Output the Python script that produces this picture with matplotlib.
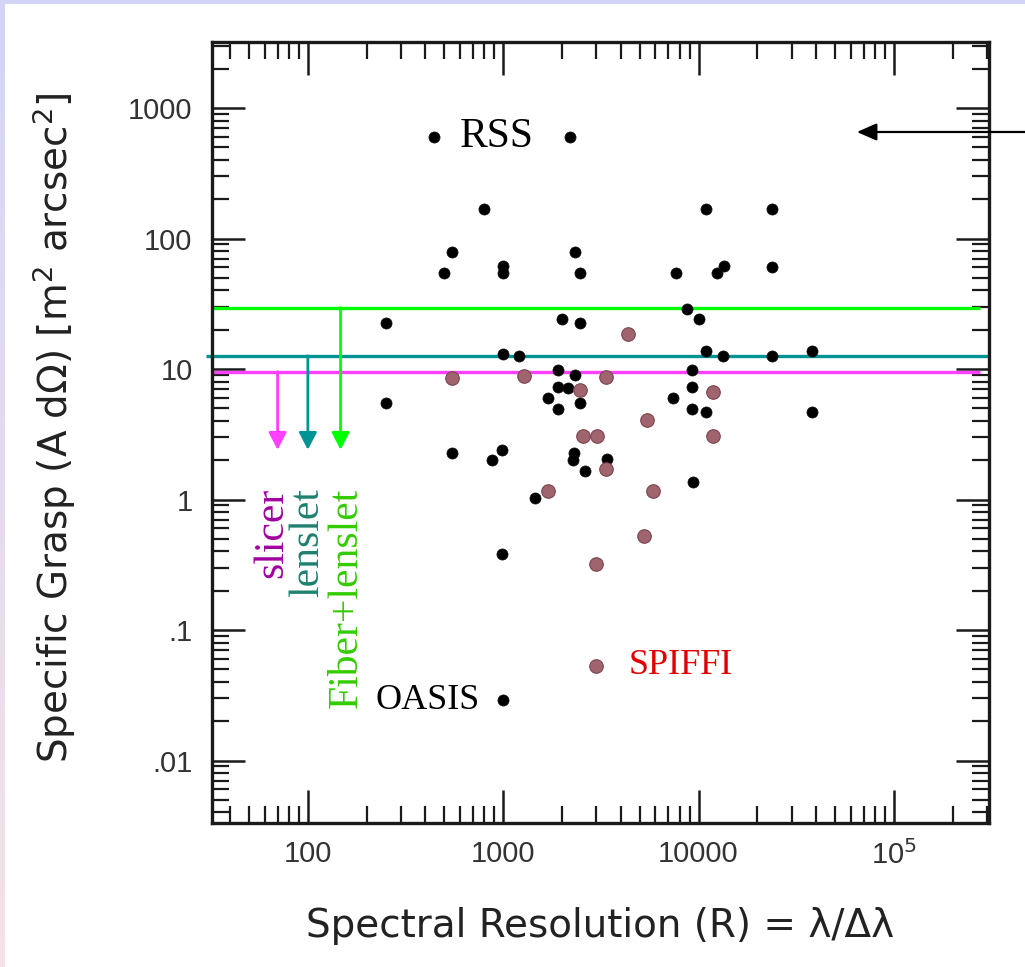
import numpy as np
import matplotlib
matplotlib.use("Agg")
import matplotlib.pyplot as plt
from matplotlib.patches import Rectangle
from matplotlib.ticker import LogLocator, NullFormatter, FixedLocator, FixedFormatter

plt.rcParams['mathtext.fontset'] = 'custom'
plt.rcParams['mathtext.rm'] = 'DejaVu Sans'
plt.rcParams['mathtext.it'] = 'DejaVu Sans:italic'

# ---------------- data ----------------
black_R = [440, 2200, 800, 550, 500, 1000, 1000, 2330, 2470, 10900, 23800, 7700, 12400,
           13500, 23800, 250, 250, 546, 875, 985, 985, 1000, 1200, 2000, 2470, 1905, 2330,
           1905, 2140, 1694, 1905, 2470, 2300, 2270, 2620, 3400, 1452, 1000, 8730, 10000,
           10900, 13300, 23800, 38100, 9250, 9250, 7400, 9250, 10900, 38100, 9350]
black_G = [600, 600, 168, 79, 54, 62, 54, 79, 54, 168, 168, 54, 54,
           61.5, 60.5, 22.5, 5.5, 2.27, 2.01, 2.39, 0.38, 13.0, 12.6, 24.2, 22.5, 9.8, 9.0,
           7.3, 7.15, 6.0, 4.93, 5.5, 2.27, 2.01, 1.65, 2.04, 1.03, 0.029, 28.8, 24.2,
           13.7, 12.6, 12.6, 13.7, 9.8, 7.3, 6.0, 4.93, 4.68, 4.68, 1.36]

pink_R = [4350, 546, 1276, 3360, 2470, 5450, 11900, 2550, 3020, 3360, 11900, 1694, 5850,
          5250, 2990, 2990]
pink_G = [18.5, 8.53, 8.8, 8.7, 6.9, 4.06, 6.67, 3.07, 3.07, 1.71, 3.07, 1.16, 1.16,
          0.525, 0.321, 0.053]

limit_names = ["slicer", "lenslet", "Fiber+lenslet"]
limit_levels = [9.53, 12.6, 29.5]
limit_arrow_R = [70, 100, 147]
limit_arrow_tip = 2.4
limit_colors = ["#ff40ff", "#009393", "#00ff00"]
limit_text_colors = ["#a000a0", "#1f8070", "#33cc00"]
limit_text_R = [73.6, 112.5, 178]
limit_text_top = 1.225

xtick_vals = [100, 1000, 10000, 100000]
xtick_labels = ["100", "1000", "10000", "10$^{5}$"]
ytick_vals = [0.01, 0.1, 1, 10, 100, 1000]
ytick_labels = [".01", ".1", "1", "10", "100", "1000"]

# ---------------- figure ----------------
W, H = 1025, 967
fig = plt.figure(figsize=(W / 100, H / 100), dpi=100)
fig.patch.set_facecolor("white")

# decorative border strips
grad_ax = fig.add_axes([0, 0, 5 / W, 1], zorder=-5)
top_c = np.array([212, 212, 248]) / 255
bot_c = np.array([246, 226, 230]) / 255
t = np.linspace(0, 1, 200)[:, None]
grad = (top_c[None, :] * (1 - t) + bot_c[None, :] * t)[:, None, :]
grad_ax.imshow(grad, aspect="auto")
grad_ax.axis("off")
fig.patches.append(Rectangle((0, 1 - 4 / H), 1, 4 / H, transform=fig.transFigure,
                             facecolor="#d4d4f8", edgecolor="none", zorder=-5))

L, R_, B, T = 212, 989, 823, 42
ax = fig.add_axes([L / W, 1 - B / H, (R_ - L) / W, (B - T) / H])
ax.set_xscale("log")
ax.set_yscale("log")
ax.set_xlim(32.3, 3.07e5)
ax.set_ylim(0.00332, 3205)

# points
ax.scatter(black_R, black_G, s=64, color="black", edgecolors="#111111", linewidths=0.5, zorder=3)
ax.scatter(pink_R, pink_G, s=95, color="#a0646e", edgecolors="#7a4450", linewidths=0.8, zorder=4)

# limit lines and arrows
for i, (lvl, xa, col) in enumerate(zip(limit_levels, limit_arrow_R, limit_colors)):
    if i == 1:
        ax.hlines(lvl, 30.1, 3.07e5, color=col, lw=2.4, clip_on=False, zorder=2)
    else:
        ax.hlines(lvl, 32.3, 2.76e5, color=col, lw=2.4, zorder=2)
    ax.annotate("", xy=(xa, limit_arrow_tip), xytext=(xa, lvl),
                arrowprops=dict(arrowstyle="-|>,head_length=0.7,head_width=0.36",
                                color=col, lw=2, shrinkA=0, shrinkB=0, mutation_scale=15),
                zorder=2)

for name, xr, col in zip(limit_names, limit_text_R, limit_text_colors):
    ax.text(xr, limit_text_top, name, rotation=90, rotation_mode="anchor",
            ha="right", va="baseline", color=col, fontsize=30, family="Liberation Serif")

# labels on points
ax.text(600, 600, "RSS", fontsize=30, family="Liberation Serif", color="black",
        ha="left", va="center")
ax.text(4400, 0.053, "SPIFFI", fontsize=26, family="Liberation Serif", color="#e00000",
        ha="left", va="center")
ax.text(760, 0.029, "OASIS", fontsize=26, family="Liberation Serif", color="black",
        ha="right", va="center")

# arrow from outside (right) pointing left
ax.annotate("", xy=(6.47e4, 655), xytext=(1.0, 655),
            textcoords=("figure fraction", "data"), xycoords="data",
            arrowprops=dict(arrowstyle="-|>,head_length=0.8,head_width=0.35",
                            color="black", lw=1.6, shrinkA=0, shrinkB=0, mutation_scale=15),
            annotation_clip=False)

# ticks
ax.xaxis.set_major_locator(FixedLocator(xtick_vals))
ax.xaxis.set_major_formatter(FixedFormatter(xtick_labels))
ax.yaxis.set_major_locator(FixedLocator(ytick_vals))
ax.yaxis.set_major_formatter(FixedFormatter(ytick_labels))
ax.xaxis.set_minor_locator(LogLocator(base=10, subs=np.arange(2, 10), numticks=20))
ax.yaxis.set_minor_locator(LogLocator(base=10, subs=np.arange(2, 10), numticks=20))
ax.xaxis.set_minor_formatter(NullFormatter())
ax.yaxis.set_minor_formatter(NullFormatter())
ax.tick_params(which="both", direction="in", top=True, right=True, color="#1a1a1a")
ax.tick_params(which="major", length=24, width=1.8)
ax.tick_params(which="minor", length=12, width=1.6)
ax.tick_params(axis="y", which="major", pad=14, labelsize=21, labelcolor="#333333")
ax.tick_params(axis="x", which="major", pad=12, labelsize=21, labelcolor="#333333")
for lab in ax.get_xticklabels() + ax.get_yticklabels():
    lab.set_family("Liberation Sans")

for sp in ax.spines.values():
    sp.set_linewidth(2.4)
    sp.set_color("#1a1a1a")

ax.set_xlabel("Spectral Resolution (R) = λ/Δλ", fontsize=28, family="DejaVu Sans",
              color="#222222")
ax.set_ylabel("Specific Grasp (A dΩ) [m$^{2}$ arcsec$^{2}$]", fontsize=28,
              family="DejaVu Sans", color="#222222")
ax.xaxis.set_label_coords(0.5, -0.1076)
ax.yaxis.set_label_coords(-0.1725, 0.506)

fig.savefig("out.png", dpi=100, facecolor=fig.get_facecolor())
